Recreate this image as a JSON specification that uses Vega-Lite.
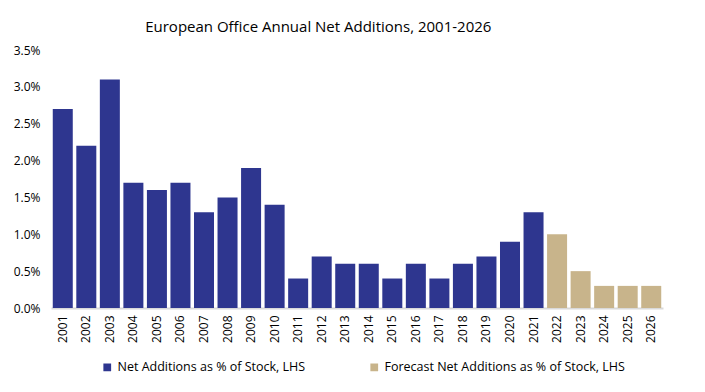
{
  "$schema": "https://vega.github.io/schema/vega-lite/v6.json",
  "width": 612,
  "height": 258,
  "autosize": "none",
  "padding": {"left": 51, "top": 50, "right": 42, "bottom": 84},
  "background": "white",
  "config": {"font": "Open Sans", "view": {"stroke": null}},
  "title": {"text": "European Office Annual Net Additions, 2001-2026", "fontSize": 15, "fontWeight": "normal", "color": "#000000", "anchor": "start", "dx": 132, "offset": 9, "font": "Open Sans"},
  "data": {"values": [
    {"year": "2001", "value": 2.7, "series": "Net Additions as % of Stock, LHS"},
    {"year": "2002", "value": 2.2, "series": "Net Additions as % of Stock, LHS"},
    {"year": "2003", "value": 3.1, "series": "Net Additions as % of Stock, LHS"},
    {"year": "2004", "value": 1.7, "series": "Net Additions as % of Stock, LHS"},
    {"year": "2005", "value": 1.6, "series": "Net Additions as % of Stock, LHS"},
    {"year": "2006", "value": 1.7, "series": "Net Additions as % of Stock, LHS"},
    {"year": "2007", "value": 1.3, "series": "Net Additions as % of Stock, LHS"},
    {"year": "2008", "value": 1.5, "series": "Net Additions as % of Stock, LHS"},
    {"year": "2009", "value": 1.9, "series": "Net Additions as % of Stock, LHS"},
    {"year": "2010", "value": 1.4, "series": "Net Additions as % of Stock, LHS"},
    {"year": "2011", "value": 0.4, "series": "Net Additions as % of Stock, LHS"},
    {"year": "2012", "value": 0.7, "series": "Net Additions as % of Stock, LHS"},
    {"year": "2013", "value": 0.6, "series": "Net Additions as % of Stock, LHS"},
    {"year": "2014", "value": 0.6, "series": "Net Additions as % of Stock, LHS"},
    {"year": "2015", "value": 0.4, "series": "Net Additions as % of Stock, LHS"},
    {"year": "2016", "value": 0.6, "series": "Net Additions as % of Stock, LHS"},
    {"year": "2017", "value": 0.4, "series": "Net Additions as % of Stock, LHS"},
    {"year": "2018", "value": 0.6, "series": "Net Additions as % of Stock, LHS"},
    {"year": "2019", "value": 0.7, "series": "Net Additions as % of Stock, LHS"},
    {"year": "2020", "value": 0.9, "series": "Net Additions as % of Stock, LHS"},
    {"year": "2021", "value": 1.3, "series": "Net Additions as % of Stock, LHS"},
    {"year": "2022", "value": 1.0, "series": "Forecast Net Additions as % of Stock, LHS"},
    {"year": "2023", "value": 0.5, "series": "Forecast Net Additions as % of Stock, LHS"},
    {"year": "2024", "value": 0.3, "series": "Forecast Net Additions as % of Stock, LHS"},
    {"year": "2025", "value": 0.3, "series": "Forecast Net Additions as % of Stock, LHS"},
    {"year": "2026", "value": 0.3, "series": "Forecast Net Additions as % of Stock, LHS"}
  ]},
  "mark": {"type": "bar"},
  "encoding": {
    "x": {"field": "year", "type": "ordinal", "title": null,
      "scale": {"paddingInner": 0.15, "paddingOuter": 0.075},
      "axis": {"labelAngle": -90, "labelFontSize": 12, "labelColor": "#000000", "ticks": false, "labelPadding": 7, "domainColor": "#d9d9d9", "domainWidth": 2, "labelFont": "Open Sans"}},
    "y": {"field": "value", "type": "quantitative", "title": null,
      "scale": {"domain": [0, 3.5]},
      "axis": {"values": [0, 0.5, 1, 1.5, 2, 2.5, 3, 3.5], "labelExpr": "format(datum.value, '.1f') + '%'", "grid": false, "domain": false, "ticks": false, "labelPadding": 11, "labelFontSize": 12, "labelColor": "#000000", "labelFont": "Open Sans"}},
    "color": {"field": "series", "type": "nominal", "title": null,
      "scale": {"domain": ["Net Additions as % of Stock, LHS", "Forecast Net Additions as % of Stock, LHS"], "range": ["#2e368f", "#c8b48b"]},
      "legend": {"orient": "none", "legendX": 50, "legendY": 311, "direction": "horizontal", "symbolType": "square", "symbolSize": 60, "symbolStrokeWidth": 0, "labelFontSize": 12.5, "labelLimit": 0, "labelColor": "#000000", "columnPadding": 62, "labelOffset": 4, "labelFont": "Open Sans"}}
  }
}
